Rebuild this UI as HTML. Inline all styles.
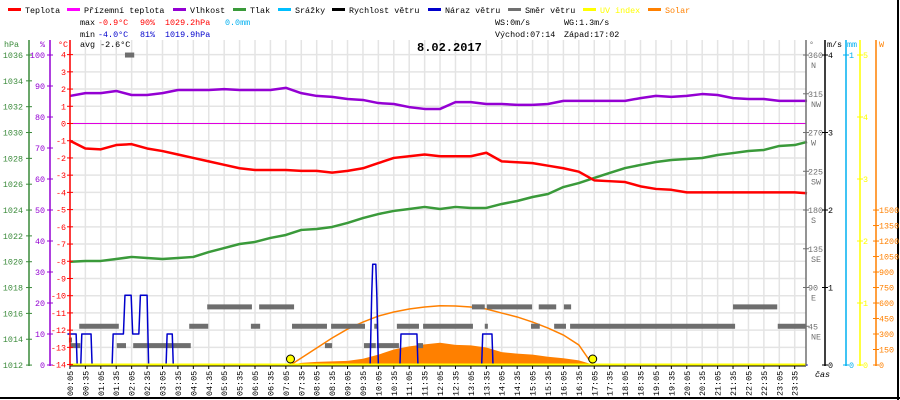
<!DOCTYPE html>
<html><head><meta charset="utf-8"><style>
html,body{margin:0;padding:0;background:#fff;}
#wrap{position:relative;width:900px;height:400px;overflow:hidden;}
svg text{font-family:"Liberation Mono",monospace;font-size:8.4px;}
</style></head><body>
<div id="wrap">
<svg id="svg" width="900" height="400" viewBox="0 0 900 400" xmlns="http://www.w3.org/2000/svg">
<rect x="0" y="0" width="900" height="400" fill="#fff"/>
<line x1="898" y1="0" x2="898" y2="400" stroke="#000" stroke-width="2"/>
<line x1="0" y1="398" x2="900" y2="398" stroke="#000" stroke-width="2"/>
<g id="grid"></g>
<g id="marks"></g>
<g id="axes"></g>
<g id="legend"></g>
<g>
<text x="80" y="25" fill="#000">max</text><text x="98" y="25" fill="#f00">-0.9°C</text><text x="140" y="25" fill="#f00">90%</text><text x="165" y="25" fill="#f00">1029.2hPa</text><text x="225" y="25" fill="#00b0f0">0.0mm</text>
<text x="80" y="37" fill="#000">min</text><text x="98" y="37" fill="#0000cc">-4.0°C</text><text x="140" y="37" fill="#0000cc">81%</text><text x="165" y="37" fill="#0000cc">1019.9hPa</text>
<text x="80" y="47" fill="#000">avg -2.6°C</text>
<text x="495" y="25" fill="#000">WS:0m/s</text><text x="564" y="25" fill="#000">WG:1.3m/s</text>
<text x="495" y="37" fill="#000">Východ:07:14</text><text x="564" y="37" fill="#000">Západ:17:02</text>
</g>
<text x="417" y="51" style="font-size:12px;font-weight:bold" fill="#000">8.02.2017</text>
</svg>
</div>
<script>
// ---- data ----
const gridTimes = []; for (let k = 0; k < 48; k++) gridTimes.push(5 + 30 * k);
const seriesTimes = gridTimes.concat([1439]);
const tempValues = [-1.0,-1.45,-1.5,-1.25,-1.2,-1.45,-1.6,-1.8,-2.0,-2.2,-2.4,-2.6,-2.7,-2.7,-2.7,-2.75,-2.75,-2.85,-2.75,-2.6,-2.3,-2.0,-1.9,-1.8,-1.9,-1.9,-1.9,-1.7,-2.2,-2.25,-2.3,-2.45,-2.6,-2.8,-3.3,-3.35,-3.4,-3.65,-3.8,-3.85,-4.0,-4.0,-4.0,-4.0,-4.0,-4.0,-4.0,-4.0,-4.05];
const pressureValues = [1020.0,1020.06,1020.06,1020.21,1020.37,1020.29,1020.21,1020.29,1020.37,1020.75,1021.06,1021.37,1021.53,1021.84,1022.07,1022.46,1022.53,1022.69,1023.0,1023.38,1023.69,1023.93,1024.08,1024.24,1024.08,1024.24,1024.16,1024.16,1024.47,1024.7,1025.01,1025.24,1025.78,1026.09,1026.48,1026.87,1027.25,1027.49,1027.72,1027.87,1027.95,1028.03,1028.26,1028.41,1028.57,1028.65,1028.96,1029.03,1029.27];
const humidityValues = [86.8,87.7,87.7,88.4,87.1,87.1,87.7,88.7,88.7,88.7,89.0,88.7,88.7,88.7,89.4,87.7,86.8,86.5,85.8,85.5,84.5,84.2,83.2,82.6,82.6,84.8,84.8,84.2,84.2,83.9,83.9,84.2,85.2,85.2,85.2,85.2,85.2,86.1,86.8,86.5,86.8,87.4,87.1,86.1,85.8,85.8,85.2,85.2,85.2];
const solarTimes = [425,434,455,485,515,545,575,605,635,665,695,725,755,785,815,845,875,905,935,965,995,1025];
const solarValues = [0,0,20,30,35,40,60,100,150,180,200,215,195,190,170,125,110,100,80,65,45,0];
const solarMaxTimes = [434,455,485,515,545,575,605,635,665,695,725,755,785,815,845,875,905,935,965,995,1022];
const solarMaxValues = [0,68,165,261,348,416,474,513,542,561,574,571,561,542,503,465,416,358,290,194,0];
const gustTimes = [0,17,19,26,28,46,48,87,89,106,109,112,124,127,139,142,155,158,192,194,204,206,589,592,594,600,602,605,647,649,680,682,806,808,826,828,1440];
const gustValues = [0.4,0.4,0,0,0.4,0.4,0,0,0.4,0.4,0.4,0.9,0.9,0.4,0.4,0.9,0.9,0,0,0.4,0.4,0,0,0.9,1.3,1.3,0.9,0,0,0.4,0.4,0,0,0.4,0.4,0,0];
const dirStart = [3,5,23,96,128,237,272,373,357,437,513,597,641,692,812,902,947,978,1382,501,577,602,680,787,816,917,966,1295,112];
const dirEnd   = [9,25,100,114,240,274,359,441,375,505,579,603,684,789,818,919,970,1299,1437,515,600,645,692,812,904,951,980,1381,130];
const dirValue = [29,22.5,45,22.5,22.5,45,67.5,67.5,45,45,45,45,45,45,45,45,45,45,45,22.5,22.5,22.5,22.5,67.5,67.5,67.5,67.5,67.5,360];
const sunEvents = [434,1022];
const hpaTicks = [1036,1034,1032,1030,1028,1026,1024,1022,1020,1018,1016,1014,1012];
const humTicks = [100,90,80,70,60,50,40,30,20,10,0];
const tempTicks = [4,3,2,1,0,-1,-2,-3,-4,-5,-6,-7,-8,-9,-10,-11,-12,-13,-14];
const dirTicks = [360,315,270,225,180,135,90,45];
const dirNames = ["N","NW","W","SW","S","SE","E","NE"];
const windTicks = [4,3,2,1,0];
const rainTicks = [1,0];
const uvTicks = [5,4,3,2,1,0];
const solarTicks = [1500,1350,1200,1050,900,750,600,450,300,150,0];

// ---- scales ----
const xOf = m => 67.4 + m * 0.514;
const yT = t => 123.5 - t * 17.22;
const yP = p => 55 + (1036 - p) * 12.92;
const yH = h => 365 - h * 3.1;
const yW = w => 365 - w * 0.1033;
const yG = v => 365 - v * 77.5;
const yD = d => 365 - d * 0.861;
const yR = r => 365 - r * 310;
const yU = u => 365 - u * 62;

const NS = "http://www.w3.org/2000/svg";
function mk(tag, parent, attrs) {
  const e = document.createElementNS(NS, tag);
  for (const k in attrs) e.setAttribute(k, attrs[k]);
  parent.appendChild(e); return e;
}
const grid = document.getElementById('grid');
const marks = document.getElementById('marks');
const axes = document.getElementById('axes');
const legend = document.getElementById('legend');

tempTicks.forEach(t => {
  const l = mk('line', grid, {x1:70, x2:806, y1:yT(t), y2:yT(t), stroke:'#e4e4e4', 'stroke-width':1.5});
  
  
});
gridTimes.forEach(m => {
  const l = mk('line', grid, {x1:xOf(m), x2:xOf(m), y1:40, y2:365, stroke:'#e4e4e4', 'stroke-width':1.5});
  
  
});
const zl = mk('line', grid, {x1:70, x2:806, y1:yT(0), y2:yT(0), stroke:'#e000e0', 'stroke-width':1});



let pts = solarTimes.map((t,i) => xOf(t)+','+yW(solarValues[i])).join(' ');
pts += ' ' + xOf(solarTimes[solarTimes.length-1]) + ',365 ' + xOf(solarTimes[0]) + ',365';
const sa = mk('polygon', marks, {points:pts, fill:'#ff8000'});


const sm = mk('polyline', marks, {points:solarMaxTimes.map((t,i)=>xOf(t)+','+yW(solarMaxValues[i])).join(' '), fill:'none', stroke:'#ff8000', 'stroke-width':1.5});



dirStart.forEach((s,i) => {
  const b = mk('rect', marks, {x:xOf(s), y:yD(dirValue[i])-2.5, width:xOf(dirEnd[i])-xOf(s), height:5, fill:'#6e6e6e'});
  
  
});

function line(times, vals, yf, color, w, name) {
  const p = mk('polyline', marks, {points:times.map((t,i)=>xOf(t)+','+yf(vals[i])).join(' '), fill:'none', stroke:color, 'stroke-width':w, 'stroke-linejoin':'round'});
  
  
}
line(seriesTimes, pressureValues, yP, '#3a9a3a', 2.5, 'pressure-line');
line(seriesTimes, humidityValues, yH, '#9400d3', 2.5, 'humidity-line');
line(seriesTimes, tempValues, yT, '#ff0000', 2.5, 'temperature-line');
line(gustTimes, gustValues, yG, '#0000cc', 1.5, 'wind-gust-line');

const yl = mk('line', marks, {x1:70, x2:806, y1:364.5, y2:364.5, stroke:'#ffff00', 'stroke-width':2});


const xl = mk('line', marks, {x1:70, x2:806, y1:366, y2:366, stroke:'#000', 'stroke-width':1});


sunEvents.forEach(t => {
  const c = mk('circle', marks, {cx:xOf(t), cy:359, r:4, fill:'#ffff00', stroke:'#000', 'stroke-width':1});
  
  
});

gridTimes.forEach(m => {
  const x = xOf(m);
  mk('line', axes, {x1:x, x2:x, y1:366, y2:369, stroke:'#000'});
  const hh = String(Math.floor(m/60)).padStart(2,'0'), mm = String(m%60).padStart(2,'0');
  const t = mk('text', axes, {x:0, y:0, transform:'translate('+(x+3)+',396) rotate(-90)', fill:'#000'});
  t.textContent = hh + ':' + mm;
  
  
});
const cas = mk('text', axes, {x:815, y:377, fill:'#000', 'font-style':'italic'}); cas.textContent = 'čas';



function vaxis(x, color, ticks, yf, labelX, anchor, name) {
  const a = mk('line', axes, {x1:x, x2:x, y1:40, y2:366, stroke:color, 'stroke-width':1.5});
  
  
  ticks.forEach(v => {
    const y = yf(v);
    mk('line', axes, {x1:x-3, x2:x+3, y1:y, y2:y, stroke:color});
    const t = mk('text', axes, {x:labelX, y:y+3, fill:color, 'text-anchor':anchor});
    t.textContent = v;
    
    
  });
}
vaxis(29, '#3a8a3a', hpaTicks, yP, 23, 'end', 'pressure-axis');
vaxis(50, '#9400d3', humTicks, yH, 45, 'end', 'humidity-axis');
vaxis(70, '#ff0000', tempTicks, yT, 66, 'end', 'temperature-axis');
vaxis(806, '#707070', dirTicks, yD, 808, 'start', 'direction-axis');
dirTicks.forEach((d,i) => { const t = mk('text', axes, {x:811, y:yD(d)+13, fill:'#707070'}); t.textContent = dirNames[i]; });
vaxis(825, '#000', windTicks, yG, 828, 'start', 'wind-axis');
vaxis(846, '#00b0f0', rainTicks, yR, 849, 'start', 'rain-axis');
vaxis(860, '#ffff00', uvTicks, yU, 863, 'start', 'uv-axis');
vaxis(876, '#ff8000', solarTicks, yW, 879, 'start', 'solar-axis');
[['hPa',4,'#3a8a3a'],['%',40,'#9400d3'],['°C',58,'#ff0000'],['°',809,'#707070'],['m/s',827,'#000'],['mm',847,'#00b0f0'],['W',879,'#ff8000']].forEach(h => {
  const t = mk('text', axes, {x:h[1], y:47, fill:h[2]}); t.textContent = h[0];
  
  
});

const legNames = ['Teplota','Přízemní teplota','Vlhkost','Tlak','Srážky','Rychlost větru','Náraz větru','Směr větru','UV index','Solar'];
const legColors = ['#ff0000','#ff00ff','#9400d3','#3a9a3a','#00bfff','#000000','#0000cc','#707070','#ffff00','#ff8000'];
const legTextX = [25,84,190,250,295,349,445,525,600,665];
legNames.forEach((n,i) => {
  const g = mk('g', legend, {});
  
  
  mk('rect', g, {x:legTextX[i]-17, y:8, width:13, height:3, fill:legColors[i]});
  const t = mk('text', g, {x:legTextX[i], y:13, fill: i>=8 ? legColors[i] : '#000'}); t.textContent = n;
});
</script>
</body></html>
